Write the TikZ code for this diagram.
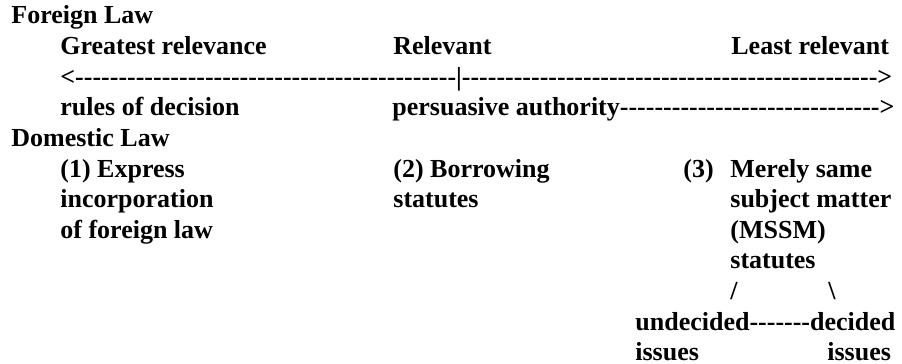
\documentclass[tikz,border=0pt]{standalone}
\usepackage{fontspec}
\setmainfont{Liberation Serif}[Ligatures=TeXOff]
\newcommand{\dashrun}[1]{\foreach \k in {1,...,#1}{-}}
\tikzset{txt/.style={anchor=base west, inner sep=0pt,
    font=\fontsize{13}{15.3}\selectfont\bfseries}}

\begin{document}
\begin{tikzpicture}[x=0.5pt,y=-0.5pt]
\useasboundingbox (0,0) rectangle (902,364);
    %foreign law
    \node[txt] (foreign) at (11,24) {Foreign Law};
    \node[txt] (greatest) at (60,54.6) {Greatest relevance};
    \node[txt] (relevant) at (393,54.6) {Relevant};
    \node[txt] (least) at (731,54.6) {Least relevant};
    \node[txt] (scale) at (60,85.2) {<\dashrun{44}|\dashrun{48}>};
    \node[txt] (rules) at (60,115.8) {rules of decision};
    \node[txt] (persuasive) at (392,115.8) {persuasive authority\dashrun{30}>};
    %domestic law
    \node[txt] (domestic) at (11,146.4) {Domestic Law};
    \node[txt] (express) at (60,177) {(1) Express};
    \node[txt] (incorp) at (60,207.6) {incorporation};
    \node[txt] (offoreign) at (60,238.2) {of foreign law};
    \node[txt] (borrowing) at (393,177) {(2) Borrowing};
    \node[txt] (bstatutes) at (393,207.6) {statutes};
    \node[txt] (three) at (683,177) {(3)};
    \node[txt] (merely) at (730,177) {Merely same};
    \node[txt] (subject) at (730,207.6) {subject matter};
    \node[txt] (mssm) at (730,238.2) {(MSSM)};
    \node[txt] (mstatutes) at (730,268.8) {statutes};
    %branches
    \node[txt] (slash) at (730,299.4) {/};
    \node[txt] (bslash) at (828,299.4) {\textbackslash};
    \node[txt] (issueline) at (635,330) {undecided\dashrun{7}decided};
    \node[txt] (undecided) at (635,360.6) {issues};
    \node[txt] (decided) at (827,360.6) {issues};
\end{tikzpicture}
\end{document}
